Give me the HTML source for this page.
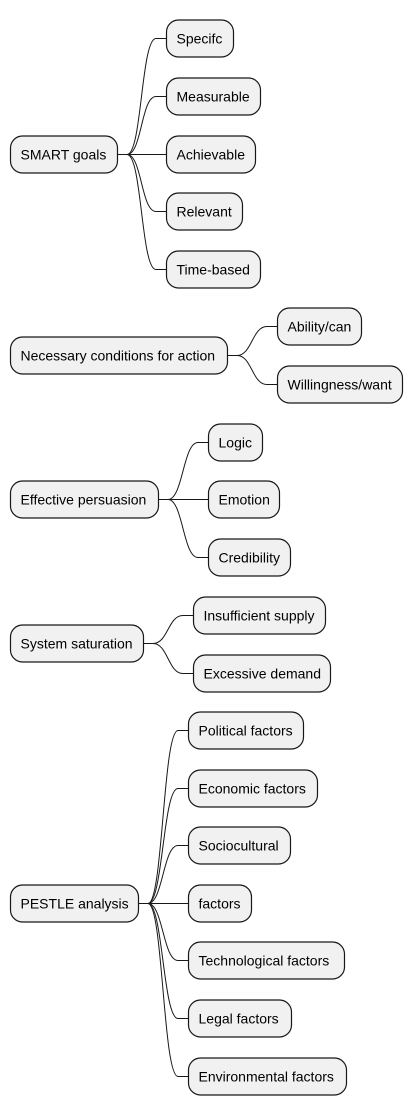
<!DOCTYPE html>
<html><head><meta charset="utf-8"><style>html,body{margin:0;padding:0;background:#fff}svg{display:block}</style></head>
<body>
<svg width="412" height="1115" xmlns="http://www.w3.org/2000/svg" font-family="Liberation Sans, sans-serif" font-size="14">
<g fill="none" stroke="#181818" stroke-width="1">
<!-- SMART -->
<path d="M117 154.5 H127 C142 154.5,141 38.5,156 38.5 H166"/>
<path d="M117 154.5 H127 C142 154.5,141 96.5,156 96.5 H166"/>
<path d="M117 154.5 H166"/>
<path d="M117 154.5 H127 C142 154.5,141 211.5,156 211.5 H166"/>
<path d="M117 154.5 H127 C142 154.5,141 269.5,156 269.5 H166"/>
<!-- Necessary -->
<path d="M227 355.5 H237 C252 355.5,252 326.5,267 326.5 H277"/>
<path d="M227 355.5 H237 C252 355.5,252 384.5,267 384.5 H277"/>
<!-- Effective -->
<path d="M158 499.5 H168 C183 499.5,183 442.5,198 442.5 H208"/>
<path d="M158 499.5 H208"/>
<path d="M158 499.5 H168 C183 499.5,183 557.5,198 557.5 H208"/>
<!-- System -->
<path d="M143 643.5 H153 C168 643.5,168 615.5,183 615.5 H193"/>
<path d="M143 643.5 H153 C168 643.5,168 673.5,183 673.5 H193"/>
<!-- PESTLE -->
<path d="M138 903.5 H148 C163 903.5,163 730.5,178 730.5 H188"/>
<path d="M138 903.5 H148 C163 903.5,163 788.5,178 788.5 H188"/>
<path d="M138 903.5 H148 C163 903.5,163 845.5,178 845.5 H188"/>
<path d="M138 903.5 H188"/>
<path d="M138 903.5 H148 C163 903.5,163 960.5,178 960.5 H188"/>
<path d="M138 903.5 H148 C163 903.5,163 1018.5,178 1018.5 H188"/>
<path d="M138 903.5 H148 C163 903.5,163 1076.5,178 1076.5 H188"/>
</g>
<g fill="#f1f1f1" stroke="#181818" stroke-width="1.2">
<rect x="10.5" y="136" width="107" height="37" rx="12"/>
<rect x="166.5" y="20" width="67" height="37" rx="12"/>
<rect x="166.5" y="78" width="94" height="37" rx="12"/>
<rect x="166.5" y="136" width="89" height="37" rx="12"/>
<rect x="166.5" y="193" width="76" height="37" rx="12"/>
<rect x="166.5" y="251" width="94" height="37" rx="12"/>
<rect x="10.5" y="337" width="217" height="37" rx="12"/>
<rect x="277.5" y="308" width="84" height="37" rx="12"/>
<rect x="277.5" y="366" width="125" height="37" rx="12"/>
<rect x="10.5" y="481" width="148" height="37" rx="12"/>
<rect x="208.5" y="424" width="54" height="37" rx="12"/>
<rect x="208.5" y="481" width="71" height="37" rx="12"/>
<rect x="208.5" y="539" width="82" height="37" rx="12"/>
<rect x="10.5" y="625" width="133" height="37" rx="12"/>
<rect x="193.5" y="597" width="132" height="37" rx="12"/>
<rect x="193.5" y="655" width="137" height="37" rx="12"/>
<rect x="10.5" y="885" width="128" height="37" rx="12"/>
<rect x="188.5" y="712" width="115" height="37" rx="12"/>
<rect x="188.5" y="770" width="129" height="37" rx="12"/>
<rect x="188.5" y="827" width="102" height="37" rx="12"/>
<rect x="188.5" y="885" width="63" height="37" rx="12"/>
<rect x="188.5" y="942" width="156" height="37" rx="12"/>
<rect x="188.5" y="1000" width="103" height="37" rx="12"/>
<rect x="188.5" y="1058" width="158" height="37" rx="12"/>
</g>
<g fill="#000">
<text x="20.5" y="159.5">SMART goals</text>
<text x="176.5" y="43.5">Specifc</text>
<text x="176.5" y="101.5">Measurable</text>
<text x="176.5" y="159.5">Achievable</text>
<text x="176.5" y="216.5">Relevant</text>
<text x="176.5" y="274.5">Time-based</text>
<text x="20.5" y="360.5">Necessary conditions for action</text>
<text x="287.5" y="331.5">Ability/can</text>
<text x="287.5" y="389.5">Willingness/want</text>
<text x="20.5" y="504.5">Effective persuasion</text>
<text x="218.5" y="447.5">Logic</text>
<text x="218.5" y="504.5">Emotion</text>
<text x="218.5" y="562.5">Credibility</text>
<text x="20.5" y="648.5">System saturation</text>
<text x="203.5" y="620.5">Insufficient supply</text>
<text x="203.5" y="678.5">Excessive demand</text>
<text x="20.5" y="908.5">PESTLE analysis</text>
<text x="198.5" y="735.5">Political factors</text>
<text x="198.5" y="793.5">Economic factors</text>
<text x="198.5" y="850.5">Sociocultural</text>
<text x="198.5" y="908.5">factors</text>
<text x="198.5" y="965.5">Technological factors</text>
<text x="198.5" y="1023.5">Legal factors</text>
<text x="198.5" y="1081.5">Environmental factors</text>
</g>
</svg>
</body></html>
